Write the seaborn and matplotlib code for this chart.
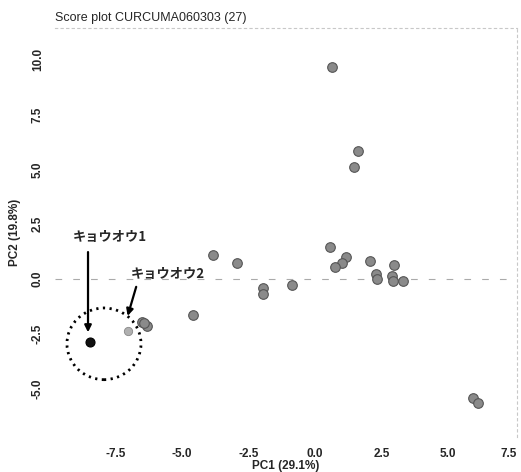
import matplotlib
matplotlib.use("Agg")
import matplotlib.pyplot as plt
import matplotlib.transforms as mtransforms
from matplotlib.patches import Ellipse
import seaborn as sns
import pandas as pd

# PCA scores
pc1 = [0.64, 1.60, 1.47,
       0.56, 1.17, 1.00, 0.75, 2.07, 2.97, 2.30, 2.33, 2.90, 2.93, 3.30,
       -0.88, -1.95, -1.95, -2.94, -3.83, -4.60,
       -6.52, -6.30, -6.42,
       5.95, 6.14]
pc2 = [9.68, 5.85, 5.10,
       1.45, 1.00, 0.73, 0.55, 0.82, 0.64, 0.25, 0.00, 0.15, -0.10, -0.08,
       -0.27, -0.40, -0.68, 0.73, 1.09, -1.64,
       -1.97, -2.12, -2.02,
       -5.42, -5.65]

kyouou1 = (-8.46, -2.88)
kyouou2 = (-7.02, -2.35)

title = "Score plot CURCUMA060303 (27)"
xlab = "PC1 (29.1%)"
ylab = "PC2 (19.8%)"
xticks = [-7.5, -5.0, -2.5, 0.0, 2.5, 5.0, 7.5]
yticks = [-5.0, -2.5, 0.0, 2.5, 5.0, 7.5, 10.0]

sns.set_style("white")
plt.rcParams['font.family'] = ['Liberation Sans', 'Noto Sans CJK JP', 'DejaVu Sans']

df = pd.DataFrame({"PC1": pc1, "PC2": pc2})

fig = plt.figure(figsize=(5.21, 4.72), dpi=100)
ax = fig.add_axes([0.1056, 0.075, 0.8867, 0.8657])

ax.axhline(0, color="#aaaaaa", lw=0.8, ls=(0, (6, 10)), zorder=0)

sns.scatterplot(data=df, x="PC1", y="PC2", ax=ax, color="#8a8a8a",
                edgecolor="#555555", linewidth=0.8, s=48, zorder=3)
sns.scatterplot(x=[kyouou1[0]], y=[kyouou1[1]], ax=ax, color="#111111",
                edgecolor="#000000", linewidth=0.8, s=42, zorder=4)
sns.scatterplot(x=[kyouou2[0]], y=[kyouou2[1]], ax=ax, color="#b0b0b0",
                edgecolor="#888888", linewidth=0.6, s=36, zorder=4)

ax.add_patch(Ellipse((-7.93, -2.95), 2.78, 3.27, fill=False, color="black",
                     lw=2.0, ls=(0, (0.8, 1.6)), zorder=5))

jp = dict(fontsize=9.5, fontweight="bold", family=['Noto Sans CJK JP', 'DejaVu Sans'])
ax.text(-7.71, 1.91, "キョウオウ1", ha="center", va="center", **jp)
ax.text(-5.53, 0.23, "キョウオウ2", ha="center", va="center", **jp)
arrow = dict(arrowstyle="-|>", color="black", lw=1.6, mutation_scale=10)
ax.annotate("", xy=(-8.53, -2.55), xytext=(-8.53, 1.36), arrowprops=arrow)
ax.annotate("", xy=(-7.07, -1.80), xytext=(-6.69, -0.23), arrowprops=arrow)

ax.set_xlim(-9.77, 7.59)
ax.set_ylim(-7.18, 11.45)
ax.set_xticks(xticks)
ax.set_yticks(yticks)
ax.set_xticklabels([f"{t:.1f}" for t in xticks], fontsize=8.5, fontweight="bold")
ax.set_yticklabels([f"{t:.1f}" for t in yticks], fontsize=8.5, fontweight="bold",
                   rotation=90, va="center")
ax.tick_params(axis="both", length=4, width=0.6, color="#cccccc", pad=4)

# keep the last x label inside the canvas
last = ax.get_xticklabels()[-1]
last.set_transform(last.get_transform() +
                   mtransforms.ScaledTranslation(-6 / 100, 0, fig.dpi_scale_trans))

ax.set_xlabel(xlab, fontsize=8.5, fontweight="bold", labelpad=0)
ax.set_ylabel(ylab, fontsize=8.5, fontweight="bold", labelpad=8)
ax.set_title(title, fontsize=9, loc="left", pad=5)

for side in ["left", "bottom"]:
    ax.spines[side].set_visible(False)
for side in ["top", "right"]:
    ax.spines[side].set_color("#c8c8c8")
    ax.spines[side].set_linestyle((0, (2, 3)))
    ax.spines[side].set_linewidth(0.8)

fig.savefig("out.png", dpi=100)
